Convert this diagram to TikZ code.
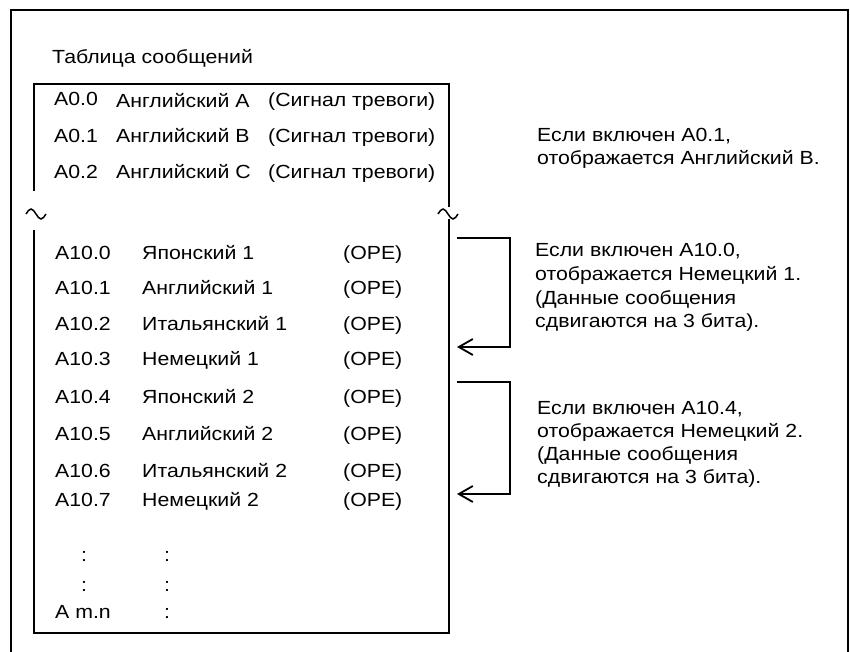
\documentclass[tikz,border=0pt]{standalone}
\usepackage{fontspec}
\setmainfont[FakeStretch=1.12]{Liberation Sans}
\usetikzlibrary{arrows.meta}
\begin{document}
\begin{tikzpicture}[x=1pt,y=-1pt,
  txt/.style={anchor=base west,inner sep=0pt,font=\fontsize{19}{23}\selectfont},
  dotc/.style={anchor=base,inner sep=0pt,font=\fontsize{19}{23}\selectfont},
  frameline/.style={line width=2.2pt},
  bracketline/.style={line width=1.8pt,-{Straight Barb[length=14pt,width=16pt]}},
  tildeline/.style={line width=1.5pt}]
\useasboundingbox (0,0) rectangle (850,652);
% outer frame (open at bottom)
\draw[frameline] (11,655) -- (11,10) -- (848,10) -- (848,655);
% title
\node[txt] (title) at (52,64) {Таблица сообщений};
% inner box
\draw[frameline] (34,191) -- (34,84) -- (449,84) -- (449,207);
\draw[frameline] (34,230) -- (34,633) -- (449,633) -- (449,219);
% break marks
\draw[tildeline] (26,214) sin (31,209) cos (36,214) sin (41,219) cos (46,214);
\draw[tildeline] (438,214) sin (443,209) cos (448,214) sin (453,219) cos (458,214);
% top rows
\node[txt] (a00) at (54,106) {A0.0};
\node[txt] (n00) at (116,108) {Английский A};
\node[txt] (c00) at (268,107) {(Сигнал тревоги)};
\node[txt] (a01) at (54,143) {A0.1};
\node[txt] (n01) at (116,143) {Английский B};
\node[txt] (c01) at (268,143) {(Сигнал тревоги)};
\node[txt] (a02) at (54,179) {A0.2};
\node[txt] (n02) at (116,179) {Английский C};
\node[txt] (c02) at (268,179) {(Сигнал тревоги)};
% A10 rows
\node[txt] (a100) at (55,259) {A10.0};
\node[txt] (n100) at (142,259) {Японский 1};
\node[txt] (c100) at (343,259) {(OPE)};
\node[txt] (a101) at (55,294) {A10.1};
\node[txt] (n101) at (142,294) {Английский 1};
\node[txt] (c101) at (343,294) {(OPE)};
\node[txt] (a102) at (55,330) {A10.2};
\node[txt] (n102) at (142,330) {Итальянский 1};
\node[txt] (c102) at (343,330) {(OPE)};
\node[txt] (a103) at (55,365) {A10.3};
\node[txt] (n103) at (142,365) {Немецкий 1};
\node[txt] (c103) at (343,365) {(OPE)};
\node[txt] (a104) at (55,403) {A10.4};
\node[txt] (n104) at (142,403) {Японский 2};
\node[txt] (c104) at (343,403) {(OPE)};
\node[txt] (a105) at (55,440) {A10.5};
\node[txt] (n105) at (142,440) {Английский 2};
\node[txt] (c105) at (343,440) {(OPE)};
\node[txt] (a106) at (55,477) {A10.6};
\node[txt] (n106) at (142,477) {Итальянский 2};
\node[txt] (c106) at (343,477) {(OPE)};
\node[txt] (a107) at (55,506) {A10.7};
\node[txt] (n107) at (142,506) {Немецкий 2};
\node[txt] (c107) at (343,506) {(OPE)};
% continuation
\node[dotc] (d1a) at (84,561) {:};
\node[dotc] (d1b) at (167,561) {:};
\node[dotc] (d2a) at (84,591) {:};
\node[dotc] (d2b) at (167,591) {:};
\node[txt] (amn) at (55,618) {A m.n};
\node[dotc] (d3b) at (167,618) {:};
% right texts
\node[txt] (r1a) at (537,142) {Если включен A0.1,};
\node[txt] (r1b) at (537,165) {отображается Английский B.};
\node[txt] (r2a) at (535,256) {Если включен A10.0,};
\node[txt] (r2b) at (535,280) {отображается Немецкий 1.};
\node[txt] (r2c) at (535,304) {(Данные сообщения};
\node[txt] (r2d) at (535,327) {сдвигаются на 3 бита).};
\node[txt] (r3a) at (537,414) {Если включен A10.4,};
\node[txt] (r3b) at (537,437) {отображается Немецкий 2.};
\node[txt] (r3c) at (537,460) {(Данные сообщения};
\node[txt] (r3d) at (537,483) {сдвигаются на 3 бита).};
% brackets
\coordinate (b1s) at (457,238);
\coordinate (b1c) at (510,238);
\coordinate (b1d) at (510,347);
\coordinate (b1e) at (457,347);
\draw[bracketline] (b1s) -- (b1c) -- (b1d) -- (b1e);
\coordinate (b2s) at (457,382);
\coordinate (b2c) at (510,382);
\coordinate (b2d) at (510,494);
\coordinate (b2e) at (457,494);
\draw[bracketline] (b2s) -- (b2c) -- (b2d) -- (b2e);
\end{tikzpicture}
\end{document}
